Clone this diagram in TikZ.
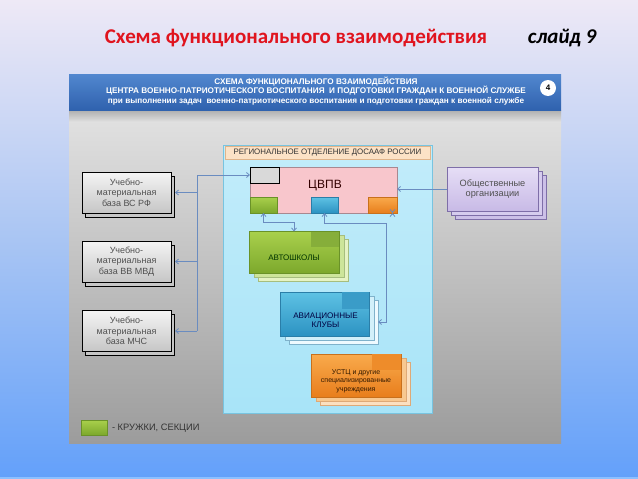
\documentclass[tikz,border=0pt]{standalone}
\usepackage{fontspec}
\setmainfont{Liberation Sans}
\newfontfamily\titlefont{Carlito}
\usetikzlibrary{shadows,calc,arrows.meta}
\definecolor{bgtop}{HTML}{EEE9F6}
\definecolor{bgmid}{HTML}{A9C5F3}
\definecolor{bgbot}{HTML}{63A0FA}
\definecolor{bgstrip}{HTML}{8CC0FF}
\definecolor{titlered}{HTML}{E0141E}
\definecolor{bandtop}{HTML}{5287CF}
\definecolor{bandbot}{HTML}{2F62AE}
\definecolor{paneltop}{HTML}{E2E2E2}
\definecolor{panelbot}{HTML}{9C9C9C}
\definecolor{cyanfill}{HTML}{A8E4F8}
\definecolor{cyanline}{HTML}{78C4E0}
\definecolor{tabfill}{HTML}{FCE2C6}
\definecolor{tabline}{HTML}{E0B48A}
\definecolor{pinkfill}{HTML}{F8C6CC}
\definecolor{pinkline}{HTML}{A88890}
\definecolor{connc}{HTML}{6A8CC0}
\definecolor{grntop}{HTML}{A9D04C}
\definecolor{grnbot}{HTML}{7CA82C}
\definecolor{grnline}{HTML}{6A9228}
\definecolor{grndark}{HTML}{86AE3A}
\definecolor{grnc1}{HTML}{CDE59A}
\definecolor{grnc2}{HTML}{E6F3C4}
\definecolor{blutop}{HTML}{5EC2E4}
\definecolor{blubot}{HTML}{2C92C2}
\definecolor{bluline}{HTML}{2A7EA8}
\definecolor{bludark}{HTML}{3A9CC8}
\definecolor{bluc1}{HTML}{D2F0FA}
\definecolor{bluc2}{HTML}{EEFAFF}
\definecolor{ortop}{HTML}{F9AA4C}
\definecolor{orbot}{HTML}{E87E1C}
\definecolor{orline}{HTML}{C8701C}
\definecolor{ordark}{HTML}{EE8C2A}
\definecolor{orc1}{HTML}{F8C890}
\definecolor{orc2}{HTML}{FCE0C0}
\definecolor{purtop}{HTML}{E6DEF6}
\definecolor{purbot}{HTML}{C8BAE6}
\definecolor{purline}{HTML}{7E6EA8}
\definecolor{purc1}{HTML}{D6CCEE}
\definecolor{purc2}{HTML}{CCC0E8}
\definecolor{lbtop}{HTML}{F4F4F4}
\definecolor{lbbot}{HTML}{C6C6C6}
\definecolor{txtgray}{HTML}{505050}
\begin{document}
\begin{tikzpicture}[x=1pt,y=-1pt,
  >={Straight Barb[length=3pt,width=5pt]},
  conn/.style={draw=connc, line width=0.8pt},
  base/.style={inner sep=0pt, outer sep=0pt, align=center},
  leftbox/.style={base, draw=black, line width=0.8pt, top color=lbtop, bottom color=lbbot,
    minimum width=89pt, minimum height=41pt, text=txtgray,
    font=\fontsize{9}{10.5}\selectfont,
    copy shadow={shadow xshift=3pt, shadow yshift=-4pt, draw=black, fill=lbbot, line width=0.8pt}},
  autobox/.style={base, draw=grnline, line width=0.6pt, top color=grntop, bottom color=grnbot,
    minimum width=90pt, minimum height=42pt,
    copy shadow={shadow xshift=9pt, shadow yshift=-8pt, draw=grnline!60, fill=grnc2},
    copy shadow={shadow xshift=5pt, shadow yshift=-4pt, draw=grnline!60, fill=grnc1}},
  aviabox/.style={base, draw=bluline, line width=0.6pt, top color=blutop, bottom color=blubot,
    minimum width=89pt, minimum height=44pt,
    copy shadow={shadow xshift=9pt, shadow yshift=-8pt, draw=bluline!60, fill=bluc2},
    copy shadow={shadow xshift=5pt, shadow yshift=-4pt, draw=bluline!60, fill=bluc1}},
  orbox/.style={base, draw=orline, line width=0.6pt, top color=ortop, bottom color=orbot,
    minimum width=90pt, minimum height=43pt,
    copy shadow={shadow xshift=9pt, shadow yshift=-8pt, draw=orline!60, fill=orc2},
    copy shadow={shadow xshift=5pt, shadow yshift=-4pt, draw=orline!60, fill=orc1}},
  purbox/.style={base, draw=purline, line width=0.6pt, top color=purtop, bottom color=purbot,
    minimum width=91pt, minimum height=44pt, text=txtgray,
    font=\fontsize{9.2}{10.5}\selectfont,
    copy shadow={shadow xshift=8pt, shadow yshift=-8pt, draw=purline, fill=purc2},
    copy shadow={shadow xshift=4pt, shadow yshift=-4pt, draw=purline, fill=purc1}},
  smallbox/.style={base, minimum width=27pt, minimum height=16pt, line width=0.5pt}
]
\useasboundingbox (0,0) rectangle (638,479);
% slide background
\shade[top color=bgtop, bottom color=bgbot, middle color=bgmid] (0,0) rectangle (638,479);
\fill[bgstrip] (0,476.5) rectangle (638,479);
% title
\node[base, text=titlered, font=\titlefont\bfseries\fontsize{21}{24}\selectfont] (title) at (296,38) {Схема функционального взаимодействия};
\node[base, text=black, font=\titlefont\bfseries\itshape\fontsize{21}{24}\selectfont] (slide) at (562,38) {слайд 9};
% panel
\shade[top color=paneltop, bottom color=panelbot] (69,110) rectangle (561,443);
\shade[top color=black!45, bottom color=paneltop, opacity=0.6] (69,110) rectangle (561,122);
\shade[top color=bandtop, bottom color=bandbot] (69,74) rectangle (561,110);
\node[base, text=white, font=\bfseries\fontsize{8.2}{9.6}\selectfont] (hdr) at (316,91)
  {СХЕМА ФУНКЦИОНАЛЬНОГО ВЗАИМОДЕЙСТВИЯ\\
   ЦЕНТРА ВОЕННО-ПАТРИОТИЧЕСКОГО ВОСПИТАНИЯ \ И ПОДГОТОВКИ ГРАЖДАН К ВОЕННОЙ СЛУЖБЕ\\
   при выполнении задач \ военно-патриотического воспитания и подготовки граждан к военной службе};
\node[base, circle, fill=white, minimum size=16pt, font=\bfseries\fontsize{8}{9}\selectfont] (num) at (548,88) {4};
% regional office
\node[base, draw=cyanline, line width=0.6pt, top color=cyanfill!70!white, bottom color=cyanfill,
  minimum width=209pt, minimum height=268pt] (region) at (327.5,279) {};
\node[base, draw=tabline, line width=0.5pt, fill=tabfill, minimum width=205pt, minimum height=13pt,
  text=black!80, font=\fontsize{7.9}{9}\selectfont] (tab) at (327.5,152.5) {РЕГИОНАЛЬНОЕ ОТДЕЛЕНИЕ ДОСААФ РОССИИ};
% ЦВПВ
\node[base, draw=pinkline, line width=0.6pt, fill=pinkfill, minimum width=147pt, minimum height=46pt] (cvpv) at (323.5,190) {};
\node[base, text=black!80!red, font=\fontsize{12}{14}\selectfont] (cvpvlabel) at (325,186) {ЦВПВ};
\node[smallbox, draw=black, line width=0.8pt, fill=black!15, minimum width=29pt] (cg) at (264.5,175) {};
\node[smallbox, draw=grnline, top color=grntop, bottom color=grnbot] (kg) at (263.5,205) {};
\node[smallbox, draw=bluline, top color=blutop, bottom color=blubot] (kb) at (324.5,205) {};
\node[smallbox, draw=orline, top color=ortop, bottom color=orbot, minimum width=29pt] (ko) at (382.5,205) {};
% left boxes
\node[leftbox] (vs) at (126.5,192.5) {Учебно-\\материальная\\база ВС РФ};
\node[leftbox] (mvd) at (126.5,261.5) {Учебно-\\материальная\\база ВВ МВД};
\node[leftbox] (mchs) at (126.5,331) {Учебно-\\материальная\\база МЧС};
% stacked boxes
\node[autobox] (auto) at (294,252.5) {};
\fill[grndark] (auto.north east) rectangle ++(-28,15);
\node[base, text=black!80!green, font=\fontsize{8}{9.5}\selectfont] (autotext) at (294,258) {АВТОШКОЛЫ};
\node[aviabox] (avia) at (324.5,314) {};
\fill[bludark] (avia.north east) rectangle ++(-27,17);
\node[base, text=black!75!blue, font=\fontsize{8.1}{9.5}\selectfont] (aviatext) at (325.5,320) {АВИАЦИОННЫЕ\\КЛУБЫ};
\node[orbox] (ustc) at (356,375.5) {};
\fill[ordark] (ustc.north east) rectangle ++(-29,16);
\node[base, text=black!80!orange, font=\fontsize{7}{8.5}\selectfont] (ustctext) at (356,381) {УСТЦ и другие\\специализированные\\учреждения};
\node[purbox] (obs) at (492.5,189) {Общественные\\организации};
% legend
\node[base, draw=grnline, line width=0.5pt, top color=grntop, bottom color=grnbot, minimum width=26pt, minimum height=15pt] (leg) at (94,427.5) {};
\node[base, anchor=west, text=black!80, font=\fontsize{9.3}{11}\selectfont] (legtext) at (112,428.5) {- КРУЖКИ, СЕКЦИИ};
% connectors
\coordinate (ttop) at (197,175);
\draw[conn,->] (ttop) -- (cg.west);
\draw[conn] (ttop) -- (ttop |- mchs.east);
\draw[conn,->] (ttop |- vs.east) -- ($(vs.east)+(4,0)$);
\draw[conn,->] (ttop |- mvd.east) -- ($(mvd.east)+(4,0)$);
\draw[conn,->] (ttop |- mchs.east) -- ($(mchs.east)+(4,0)$);
\draw[conn,->] (obs.west) -- (obs.west -| cvpv.east);
\draw[conn,<->] (kg.south) -- ++(0,9) -| (auto.north);
\coordinate (bturn) at (386,223);
\draw[conn,<->] (kb.south) |- (bturn) |- ($(avia.east)+(9,8)$);
\draw[conn,<->] ($(ko.south)+(10,0)$) -- ($(ko.south)+(10,0)$ |- ustc.north);
\end{tikzpicture}
\end{document}
